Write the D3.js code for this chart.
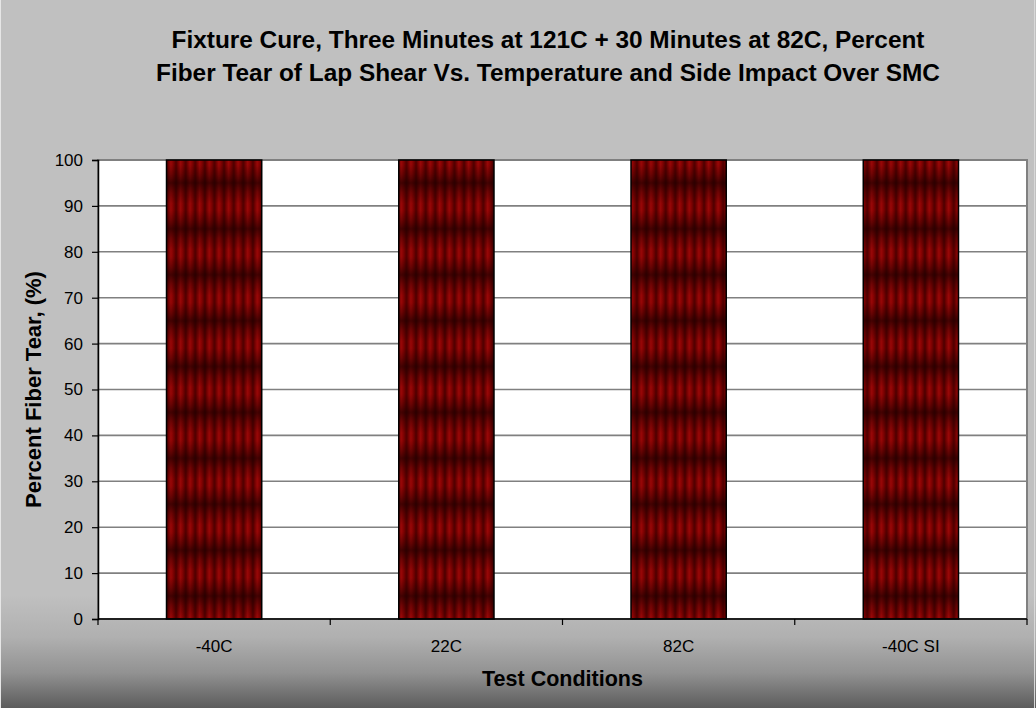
<!DOCTYPE html>
<html>
<head>
<meta charset="utf-8">
<script src="https://cdn.jsdelivr.net/npm/d3@7"></script>
<style>
  html, body { margin: 0; padding: 0; background: #c0c0c0; }
  svg { display: block; }
  text { font-family: "Liberation Sans", Arial, sans-serif; fill: #000; }
</style>
</head>
<body>
<svg id="chart" width="1036" height="708"></svg>
<script>
// Chart data
const categories = ["-40C", "22C", "82C", "-40C SI"];
const fiberTear = [100, 100, 100, 100];
const yTicks = [0, 10, 20, 30, 40, 50, 60, 70, 80, 90, 100];
const titleLines = [
  "Fixture Cure, Three Minutes at 121C + 30 Minutes at 82C, Percent",
  "Fiber Tear of Lap Shear Vs. Temperature and Side Impact Over SMC"
];
const xTitle = "Test Conditions";
const yTitle = "Percent Fiber Tear, (%)";

const W = 1036, H = 708;
const plot = { left: 98, right: 1027, top: 160, bottom: 619 };
const FONT = '"Liberation Sans", Arial, sans-serif';

const svg = d3.select("#chart");
const defs = svg.append("defs");

// Background: flat grey that darkens toward the bottom edge
const bg = defs.append("linearGradient").attr("id", "bgGrad")
  .attr("x1", 0).attr("y1", 0).attr("x2", 0).attr("y2", 1);
[[0, "#c0c0c0"], [0.84, "#c0c0c0"], [0.9, "#b0b0b0"], [0.95, "#929292"], [1, "#5c5c5c"]]
  .forEach(([o, c]) => bg.append("stop").attr("offset", o).attr("stop-color", c));

svg.append("rect").attr("width", W).attr("height", H).attr("fill", "url(#bgGrad)");
svg.append("line").attr("x1", 0.5).attr("x2", 0.5).attr("y1", 0).attr("y2", H)
  .attr("stroke", "#e6e6e6").attr("stroke-width", 1);
svg.append("line").attr("x1", W - 1.5).attr("x2", W - 1.5).attr("y1", 0).attr("y2", H)
  .attr("stroke", "#d8d8d8").attr("stroke-width", 1);

// Scales
const x = d3.scaleBand().domain(categories)
  .range([plot.left, plot.right]).paddingInner(0.59).paddingOuter(0.295);
const xCat = d3.scaleBand().domain(categories).range([plot.left, plot.right]);
const y = d3.scaleLinear().domain([0, 100]).range([plot.bottom, plot.top]);

// Bar texture: vertical folds plus darker horizontal bands every 10 units
const stripeW = 9.6;
const bandH = y(0) - y(10);

const vg = defs.append("linearGradient").attr("id", "foldGrad")
  .attr("x1", 0).attr("y1", 0).attr("x2", 1).attr("y2", 0);
[[0, "#4a0000"], [0.18, "#700000"], [0.45, "#980808"], [0.6, "#8c0303"], [0.85, "#670000"], [1, "#4a0000"]]
  .forEach(([o, c]) => vg.append("stop").attr("offset", o).attr("stop-color", c));

const hg = defs.append("linearGradient").attr("id", "bandGrad")
  .attr("x1", 0).attr("y1", 0).attr("x2", 0).attr("y2", 1);
[[0, 0.68], [0.2, 0.32], [0.45, 0.0], [0.6, 0.0], [0.82, 0.34], [1, 0.68]]
  .forEach(([o, a]) => hg.append("stop").attr("offset", o)
    .attr("stop-color", "#1a0000").attr("stop-opacity", a));

const fold = defs.append("pattern").attr("id", "folds")
  .attr("patternUnits", "userSpaceOnUse")
  .attr("x", x(categories[0])).attr("y", 0)
  .attr("width", stripeW).attr("height", 10);
fold.append("rect").attr("width", stripeW).attr("height", 10).attr("fill", "url(#foldGrad)");

const band = defs.append("pattern").attr("id", "bands")
  .attr("patternUnits", "userSpaceOnUse")
  .attr("x", 0).attr("y", y(100) - bandH / 2)
  .attr("width", 10).attr("height", bandH);
band.append("rect").attr("width", 10).attr("height", bandH).attr("fill", "url(#bandGrad)");

// Plot area
svg.append("rect")
  .attr("x", plot.left).attr("y", plot.top)
  .attr("width", plot.right - plot.left).attr("height", plot.bottom - plot.top)
  .attr("fill", "#ffffff").attr("stroke", "#808080").attr("stroke-width", 2);

// Gridlines
svg.append("g").selectAll("line").data(yTicks.filter(t => t > 0 && t < 100)).join("line")
  .attr("x1", plot.left).attr("x2", plot.right)
  .attr("y1", d => y(d)).attr("y2", d => y(d))
  .attr("stroke", "#808080").attr("stroke-width", 1.6);

// Bars
const bars = svg.append("g");
const barData = categories.map((c, i) => ({ c, v: fiberTear[i] }));
bars.selectAll("rect.base").data(barData).join("rect").attr("class", "base")
  .attr("x", d => x(d.c)).attr("y", d => y(d.v))
  .attr("width", x.bandwidth()).attr("height", d => y(0) - y(d.v))
  .attr("fill", "url(#folds)");
bars.selectAll("rect.shade").data(barData).join("rect").attr("class", "shade")
  .attr("x", d => x(d.c)).attr("y", d => y(d.v))
  .attr("width", x.bandwidth()).attr("height", d => y(0) - y(d.v))
  .attr("fill", "url(#bands)")
  .attr("stroke", "#000").attr("stroke-width", 1.5);

// Y axis
const yAxis = svg.append("g").attr("transform", `translate(${plot.left},0)`)
  .call(d3.axisLeft(y).tickValues(yTicks).tickSize(6).tickPadding(9));
yAxis.select(".domain").attr("stroke", "#000").attr("stroke-width", 1.5);
yAxis.selectAll(".tick line").attr("stroke", "#000").attr("stroke-width", 1.2);
yAxis.selectAll(".tick text").style("font-size", "17px")
  .style("font-family", FONT).attr("fill", "#000");

// X axis: ticks on category boundaries, labels at centres
const xAxisG = svg.append("g").attr("transform", `translate(0,${plot.bottom})`);
xAxisG.append("line").attr("x1", plot.left).attr("x2", plot.right)
  .attr("stroke", "#000").attr("stroke-width", 1.5);
const boundaries = categories.map(c => xCat(c)).concat([plot.right]);
xAxisG.selectAll("line.tk").data(boundaries).join("line").attr("class", "tk")
  .attr("x1", d => d).attr("x2", d => d).attr("y1", 0).attr("y2", 6)
  .attr("stroke", "#000").attr("stroke-width", 1.2);
xAxisG.selectAll("text").data(categories).join("text")
  .attr("x", d => xCat(d) + xCat.bandwidth() / 2).attr("y", 33)
  .attr("text-anchor", "middle").style("font-size", "17px")
  .style("font-family", FONT).text(d => d);

// Titles
svg.append("text").attr("x", 548).attr("text-anchor", "middle")
  .style("font-size", "24.4px").style("font-weight", "bold").style("font-family", FONT)
  .selectAll("tspan").data(titleLines).join("tspan")
  .attr("x", 548).attr("y", (d, i) => 48 + i * 33).text(d => d);

svg.append("text").attr("x", (plot.left + plot.right) / 2).attr("y", 686)
  .attr("text-anchor", "middle").style("font-size", "21.5px").style("font-weight", "bold")
  .style("font-family", FONT).text(xTitle);

svg.append("text")
  .attr("transform", `translate(41,${(plot.top + plot.bottom) / 2}) rotate(-90)`)
  .attr("text-anchor", "middle").style("font-size", "22px").style("font-weight", "bold")
  .style("font-family", FONT).text(yTitle);
</script>
</body>
</html>
